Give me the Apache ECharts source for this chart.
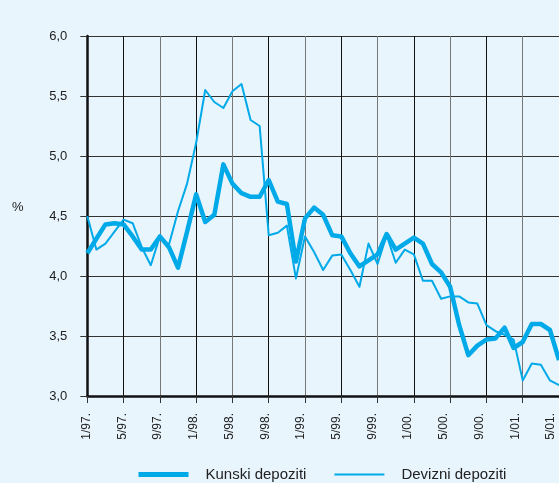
<!DOCTYPE html>
<html>
<head>
<meta charset="utf-8">
<script src="https://cdn.jsdelivr.net/npm/echarts@6/dist/echarts.min.js"></script>
<style>
  html, body { margin: 0; padding: 0; background: #e9f5fd; }
  #chart { width: 559px; height: 483px; }
</style>
</head>
<body>
<div id="chart"></div>
<script>
// Monthly observations, January 1997 – May 2001
const months = [
  '1/97.', '2/97.', '3/97.', '4/97.', '5/97.', '6/97.', '7/97.', '8/97.', '9/97.', '10/97.', '11/97.', '12/97.',
  '1/98.', '2/98.', '3/98.', '4/98.', '5/98.', '6/98.', '7/98.', '8/98.', '9/98.', '10/98.', '11/98.', '12/98.',
  '1/99.', '2/99.', '3/99.', '4/99.', '5/99.', '6/99.', '7/99.', '8/99.', '9/99.', '10/99.', '11/99.', '12/99.',
  '1/00.', '2/00.', '3/00.', '4/00.', '5/00.', '6/00.', '7/00.', '8/00.', '9/00.', '10/00.', '11/00.', '12/00.',
  '1/01.', '2/01.', '3/01.', '4/01.', '5/01.'
];

// Labels printed under the time axis (every fourth month)
const tickLabels = [
  '1/97.', '5/97.', '9/97.', '1/98.', '5/98.', '9/98.', '1/99.',
  '5/99.', '9/99.', '1/00.', '5/00.', '9/00.', '1/01.', '5/01.'
];

// Kuna deposit rates, %
const kunski = [
  4.19, 4.31, 4.43, 4.44, 4.43, 4.33, 4.22, 4.22, 4.33, 4.24, 4.07, 4.37,
  4.68, 4.45, 4.51, 4.93, 4.77, 4.69, 4.66, 4.66, 4.80, 4.62, 4.60, 4.12,
  4.48, 4.57, 4.51, 4.34, 4.33, 4.19, 4.08, 4.13, 4.18, 4.35, 4.22, 4.27,
  4.32, 4.27, 4.10, 4.03, 3.91, 3.59, 3.34, 3.42, 3.47, 3.48, 3.57, 3.40,
  3.45, 3.60, 3.60, 3.55, 3.30
];

// Foreign currency deposit rates, %
const devizni = [
  4.50, 4.22, 4.27, 4.37, 4.47, 4.44, 4.24, 4.09, 4.33, 4.26, 4.54, 4.77,
  5.11, 5.55, 5.45, 5.40, 5.54, 5.60, 5.30, 5.25, 4.34, 4.36, 4.42, 3.98,
  4.33, 4.20, 4.05, 4.17, 4.18, 4.05, 3.91, 4.27, 4.10, 4.34, 4.11, 4.22,
  4.18, 3.96, 3.96, 3.81, 3.83, 3.83, 3.78, 3.77, 3.59, 3.54, 3.51, 3.47,
  3.13, 3.27, 3.26, 3.13, 3.09
];

const Y_MIN = 3.0, Y_MAX = 6.0, Y_STEP = 0.5;

const BG = '#e9f5fd';
const LINE_COLOR = '#00a9e8';
const INK = '#222';
const FONT = '"Liberation Sans", Arial, sans-serif';

const fmt = v => v.toFixed(1).replace('.', ',');

// legend keys are plain line samples, no marker in the middle
const hiddenMarker = { opacity: 0, color: 'rgba(0,0,0,0)', borderWidth: 0 };

const chart = echarts.init(document.getElementById('chart'), null, { renderer: 'canvas' });

chart.setOption({
  backgroundColor: BG,
  animation: false,
  textStyle: { fontFamily: FONT, color: INK },
  grid: [
    // plotting area (runs slightly past the right edge)
    { left: 87.3, right: -2.8, top: 36, bottom: 87 },
    // band that carries the date labels
    { left: 86.7, right: 8, top: 36, bottom: 87 }
  ],
  xAxis: [
    {
      type: 'category', gridIndex: 0, data: months, boundaryGap: false,
      axisLine: { show: true, lineStyle: { color: '#111', width: 2.5 } },
      axisTick: { show: true, interval: 3, length: 7, lineStyle: { color: '#333' } },
      axisLabel: { show: false },
      splitLine: { show: true, interval: 3, lineStyle: { color: ['#777', '#111'], width: 1 } }
    },
    {
      type: 'category', gridIndex: 1, data: tickLabels, boundaryGap: false,
      axisLine: { show: false }, axisTick: { show: false },
      axisLabel: { show: true, interval: 0, rotate: 90, margin: 17, fontSize: 12, color: INK, fontFamily: FONT },
      splitLine: { show: false }
    }
  ],
  yAxis: [
    {
      type: 'value', gridIndex: 0, min: Y_MIN, max: Y_MAX, interval: Y_STEP,
      axisLine: { show: true, lineStyle: { color: '#111', width: 2.5 } },
      axisTick: { show: true, length: 7, lineStyle: { color: '#333' } },
      axisLabel: { margin: 20, fontSize: 13, color: INK, fontFamily: FONT, formatter: fmt },
      splitLine: { show: true, lineStyle: { color: '#333', width: 1 } }
    },
    { type: 'value', gridIndex: 1, min: Y_MIN, max: Y_MAX, show: false }
  ],
  legend: {
    left: 136, top: 467, padding: 0,
    itemWidth: 50, itemHeight: 14, itemGap: 27,
    textStyle: { fontSize: 15, color: INK, fontFamily: FONT, padding: [0, 0, 0, 12] },
    data: [
      { name: 'Kunski depoziti', lineStyle: { width: 5 }, itemStyle: hiddenMarker },
      { name: 'Devizni depoziti', lineStyle: { width: 2 }, itemStyle: hiddenMarker }
    ]
  },
  graphic: [
    {
      type: 'text', left: 12, top: 201,
      style: { text: '%', fontSize: 13, fill: INK, fontFamily: FONT }
    }
  ],
  series: [
    {
      name: 'Kunski depoziti', type: 'line', xAxisIndex: 0, yAxisIndex: 0,
      data: kunski, symbol: 'none', z: 3,
      lineStyle: { color: LINE_COLOR, width: 4.5, join: 'round' },
      itemStyle: { color: LINE_COLOR }
    },
    {
      name: 'Devizni depoziti', type: 'line', xAxisIndex: 0, yAxisIndex: 0,
      data: devizni, symbol: 'none', z: 4,
      lineStyle: { color: LINE_COLOR, width: 2, join: 'round' },
      itemStyle: { color: LINE_COLOR }
    }
  ]
});
</script>
</body>
</html>
